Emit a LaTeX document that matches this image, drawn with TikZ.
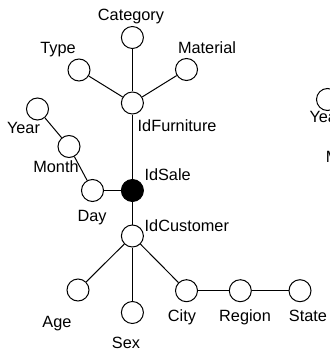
\documentclass[tikz,border=0pt]{standalone}
\usepackage{fontspec}
\setmainfont{Liberation Sans}
\begin{document}
\begin{tikzpicture}[x=1pt,y=-1pt,
  attr/.style={circle,draw,line width=1pt,fill=white,minimum size=22pt,inner sep=0pt},
  fact/.style={attr,fill=black},
  lbl/.style={inner sep=0pt,anchor=base,font=\fontsize{16.3}{19}\selectfont},
  lblw/.style={lbl,anchor=base west},
  link/.style={line width=1pt}]
\useasboundingbox (0,0) rectangle (329,350);

% fact and dimension keys
\node[fact] (sale) at (132.4,190.5) {};
\node[attr] (furn) at (132.4,103) {};
\node[attr] (cust) at (132.4,236) {};

% furniture hierarchy
\node[attr] (cat) at (132.4,37.5) {};
\node[attr] (type) at (79,70) {};
\node[attr] (mat) at (186.5,69.5) {};

% time hierarchy
\node[attr] (year) at (37.5,109) {};
\node[attr] (month) at (69,146.5) {};
\node[attr] (day) at (92.5,190.5) {};

% customer hierarchy
\node[attr] (age) at (78,290) {};
\node[attr] (sex) at (132.4,312.5) {};
\node[attr] (city) at (186.5,290.7) {};
\node[attr] (region) at (240.3,290.7) {};
\node[attr] (state) at (300,290.7) {};

% second time hierarchy at the right edge
\node[attr] (year2) at (327.5,99.5) {};

% connectors
\draw[link] (cat) -- (furn);
\draw[link] (type) -- (furn);
\draw[link] (mat) -- (furn);
\draw[link] (furn) -- (sale);
\draw[link] (year) -- (month);
\draw[link] (month) -- (day);
\draw[link] (day) -- (sale);
\draw[link] (sale) -- (cust);
\draw[link] (cust) -- (age);
\draw[link] (cust) -- (sex);
\draw[link] (cust) -- (city);
\draw[link] (city) -- (region);
\draw[link] (region) -- (state);

% labels
\node[lbl] (tcat) at (131,21) {Category};
\node[lbl] (ttype) at (58,53.3) {Type};
\node[lbl] (tmat) at (207,53.3) {Material};
\node[lblw] (tfurn) at (137.5,131) {IdFurniture};
\node[lbl] (tyear) at (23.5,133.3) {Year};
\node[lbl] (tmonth) at (56,172.3) {Month};
\node[lbl] (tday) at (92,221.7) {Day};
\node[lblw] (tsale) at (144.3,180) {IdSale};
\node[lblw] (tcust) at (144.5,231) {IdCustomer};
\node[lbl] (tage) at (57,327) {Age};
\node[lbl] (tsex) at (126,348.3) {Sex};
\node[lbl] (tcity) at (182,321) {City};
\node[lbl] (tregion) at (245,321) {Region};
\node[lbl] (tstate) at (308,321) {State};
\node[lblw] (tyear2) at (309.3,122.7) {Year};
\node[lblw] (tmonth2) at (325.7,162.3) {Month};
\end{tikzpicture}
\end{document}
